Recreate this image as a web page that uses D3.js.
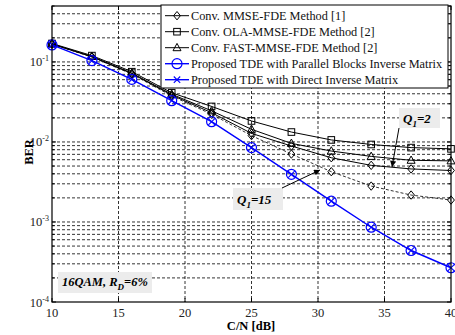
<!DOCTYPE html>
<html><head><meta charset="utf-8">
<script src="https://cdn.jsdelivr.net/npm/d3@7"></script>
<style>body{margin:0;background:#fff}svg{display:block}text{font-family:"Liberation Serif","Times New Roman",serif}</style>
</head><body><svg id="c" width="455" height="335"></svg>
<script>
const snr = [10,13,16,19,22,25,28,31,34,37,40];
const berOla = [0.170,0.120,0.0755,0.0412,0.0278,0.0183,0.0133,0.0106,0.0093,0.0085,0.0082];
const berFast = [0.168,0.117,0.0725,0.0395,0.0245,0.0144,0.0096,0.0077,0.0066,0.0059,0.0058];
const berMmseQ2 = [0.167,0.116,0.0715,0.0385,0.0232,0.0128,0.0089,0.00635,0.0051,0.0046,0.0044];
const berMmseQ15 = [0.167,0.115,0.0705,0.0375,0.0222,0.0120,0.00706,0.00425,0.00281,0.00217,0.00188];
const berProposed = [0.163,0.104,0.0605,0.0328,0.0179,0.0085,0.00394,0.00182,0.00086,0.00044,0.000268];
const xTicks = [10,15,20,25,30,35,40];
const yMajor = [1e-1,1e-2,1e-3,1e-4];
const yMajorExp = ["-1","-2","-3","-4"];
const legendLabels = ["Conv. MMSE-FDE Method [1]","Conv. OLA-MMSE-FDE Method [2]","Conv. FAST-MMSE-FDE Method [2]","Proposed TDE with Parallel Blocks Inverse Matrix","Proposed TDE with Direct Inverse Matrix"];

const svg = d3.select("#c");
const L=52, R=451, T=6, B=302;
const x = d3.scaleLinear().domain([10,40]).range([L,R]);
const y = d3.scaleLog().domain([1e-4,0.5]).range([B,T]);

const yAll = [];
for (let e=-4; e<0; e++) for (let m=1; m<10; m++) { const v=m*Math.pow(10,e); if (v<=0.5+1e-9 && v>=1e-4) yAll.push(v); }

const grid = svg.append("g").attr("stroke","#000").attr("stroke-width",0.8).attr("stroke-dasharray","3,2");
yAll.filter(v=>v>1e-4 && v<0.5).forEach(v=>grid.append("line").attr("x1",L).attr("x2",R).attr("y1",y(v)).attr("y2",y(v)));
xTicks.filter(v=>v>10&&v<40).forEach(v=>grid.append("line").attr("x1",x(v)).attr("x2",x(v)).attr("y1",T).attr("y2",B));

const tk = svg.append("g").attr("stroke","#000").attr("stroke-width",1);
xTicks.forEach(v=>{tk.append("line").attr("x1",x(v)).attr("x2",x(v)).attr("y1",B).attr("y2",B-4);tk.append("line").attr("x1",x(v)).attr("x2",x(v)).attr("y1",T).attr("y2",T+4);});
yAll.forEach(v=>{const len = yMajor.includes(v)?4:2.5; tk.append("line").attr("x1",L).attr("x2",L+len).attr("y1",y(v)).attr("y2",y(v)); tk.append("line").attr("x1",R).attr("x2",R-len).attr("y1",y(v)).attr("y2",y(v));});

const line = d3.line().x((d,i)=>x(snr[i])).y(d=>y(d));
function marker(g, type, cx, cy, color){
  if(type==="diamond") g.append("path").attr("d",`M${cx},${cy-4.2}L${cx+3.4},${cy}L${cx},${cy+4.2}L${cx-3.4},${cy}Z`).attr("fill","none").attr("stroke",color).attr("stroke-width",1);
  if(type==="square") g.append("rect").attr("x",cx-3.3).attr("y",cy-3.3).attr("width",6.6).attr("height",6.6).attr("fill","none").attr("stroke",color).attr("stroke-width",1);
  if(type==="triangle") g.append("path").attr("d",`M${cx},${cy-4.3}L${cx+4},${cy+3}L${cx-4},${cy+3}Z`).attr("fill","none").attr("stroke",color).attr("stroke-width",1);
  if(type==="circle") g.append("circle").attr("cx",cx).attr("cy",cy).attr("r",5).attr("fill","none").attr("stroke",color).attr("stroke-width",1.2);
  if(type==="x") g.append("path").attr("d",`M${cx-3.2},${cy-3.2}L${cx+3.2},${cy+3.2}M${cx-3.2},${cy+3.2}L${cx+3.2},${cy-3.2}`).attr("stroke",color).attr("stroke-width",1.1);
}
const series = [
  {d:berMmseQ15, m:["diamond"], c:"#000", w:0.8, dash:"3,2"},
  {d:berOla, m:["square"], c:"#000", w:1},
  {d:berFast, m:["triangle"], c:"#000", w:1},
  {d:berMmseQ2, m:["diamond"], c:"#000", w:1},
  {d:berProposed, m:["circle","x"], c:"#0000ff", w:1.4}
];
const cg = svg.append("g");
series.forEach(s=>{
  cg.append("path").attr("d",line(s.d)).attr("fill","none").attr("stroke",s.c).attr("stroke-width",s.w).attr("stroke-dasharray",s.dash||null);
  s.d.forEach((v,i)=>s.m.forEach(t=>marker(cg,t,x(snr[i]),y(v),s.c)));
});

svg.append("rect").attr("x",L).attr("y",T).attr("width",R-L).attr("height",B-T).attr("fill","none").attr("stroke","#000").attr("stroke-width",1.2);

xTicks.forEach(v=>svg.append("text").attr("x",x(v)).attr("y",317).attr("text-anchor","middle").attr("font-size",12.5).attr("fill","#222").text(v));
yMajor.forEach((v,i)=>{
  const t = svg.append("text").attr("x",49).attr("y",y(v)+4.5).attr("text-anchor","end").attr("font-size",12.5).attr("fill","#222");
  t.append("tspan").text("10");
  t.append("tspan").attr("dy",-5).attr("font-size",8).text(yMajorExp[i]);
});
svg.append("text").attr("x",251).attr("y",330).attr("text-anchor","middle").attr("font-size",12.5).attr("font-weight","bold").text("C/N [dB]");
svg.append("text").attr("transform","translate(33,152) rotate(-90)").attr("text-anchor","middle").attr("font-size",12.5).attr("font-weight","bold").text("BER");

const lg = svg.append("g");
lg.append("rect").attr("x",161).attr("y",5).attr("width",287).attr("height",83).attr("fill","#fff").attr("stroke","#000").attr("stroke-width",1);
const legM = [["diamond"],["square"],["triangle"],["circle"],["x"]];
const legC = ["#000","#000","#000","#0000ff","#0000ff"];
legendLabels.forEach((lab,i)=>{
  const yy = 15.7 + i*16;
  lg.append("line").attr("x1",165).attr("x2",189).attr("y1",yy).attr("y2",yy).attr("stroke",legC[i]).attr("stroke-width",i>2?1.4:1);
  legM[i].forEach(t=>marker(lg,t,177,yy,legC[i]));
  lg.append("text").attr("x",191).attr("y",yy+4.3).attr("font-size",12.3).attr("fill","#111").text(lab);
});

const defs = svg.append("defs");
defs.append("marker").attr("id","ah").attr("viewBox","0 0 10 10").attr("refX",10).attr("refY",5).attr("markerWidth",7).attr("markerHeight",6).attr("orient","auto").attr("markerUnits","userSpaceOnUse")
  .append("path").attr("d","M0,0L10,5L0,10Z").attr("fill","#000");
function qLabel(bx,by,bw,bh,tx,ty,val){
  svg.append("rect").attr("x",bx).attr("y",by).attr("width",bw).attr("height",bh).attr("fill","#ececec");
  const t = svg.append("text").attr("x",tx).attr("y",ty).attr("font-size",13).attr("font-weight","bold").attr("font-style","italic");
  t.append("tspan").text("Q");
  t.append("tspan").attr("dy",4).attr("font-size",9).text("1");
  t.append("tspan").attr("dy",-4).text("="+val);
}
qLabel(399,108,41,20,403,123,"2");
svg.append("line").attr("x1",399).attr("y1",128).attr("x2",392).attr("y2",167).attr("stroke","#000").attr("stroke-width",1).attr("marker-end","url(#ah)");
qLabel(233,188,50,22,237,204,"15");
svg.append("line").attr("x1",282).attr("y1",188).attr("x2",320).attr("y2",170).attr("stroke","#000").attr("stroke-width",1).attr("marker-end","url(#ah)");

svg.append("rect").attr("x",58).attr("y",272).attr("width",94).attr("height",21).attr("fill","#ececec");
const qt = svg.append("text").attr("x",62).attr("y",286).attr("font-size",12.5).attr("font-weight","bold").attr("font-style","italic");
qt.append("tspan").text("16QAM, R");
qt.append("tspan").attr("dy",4).attr("font-size",9).text("D");
qt.append("tspan").attr("dy",-4).text("=6%");
</script></body></html>
